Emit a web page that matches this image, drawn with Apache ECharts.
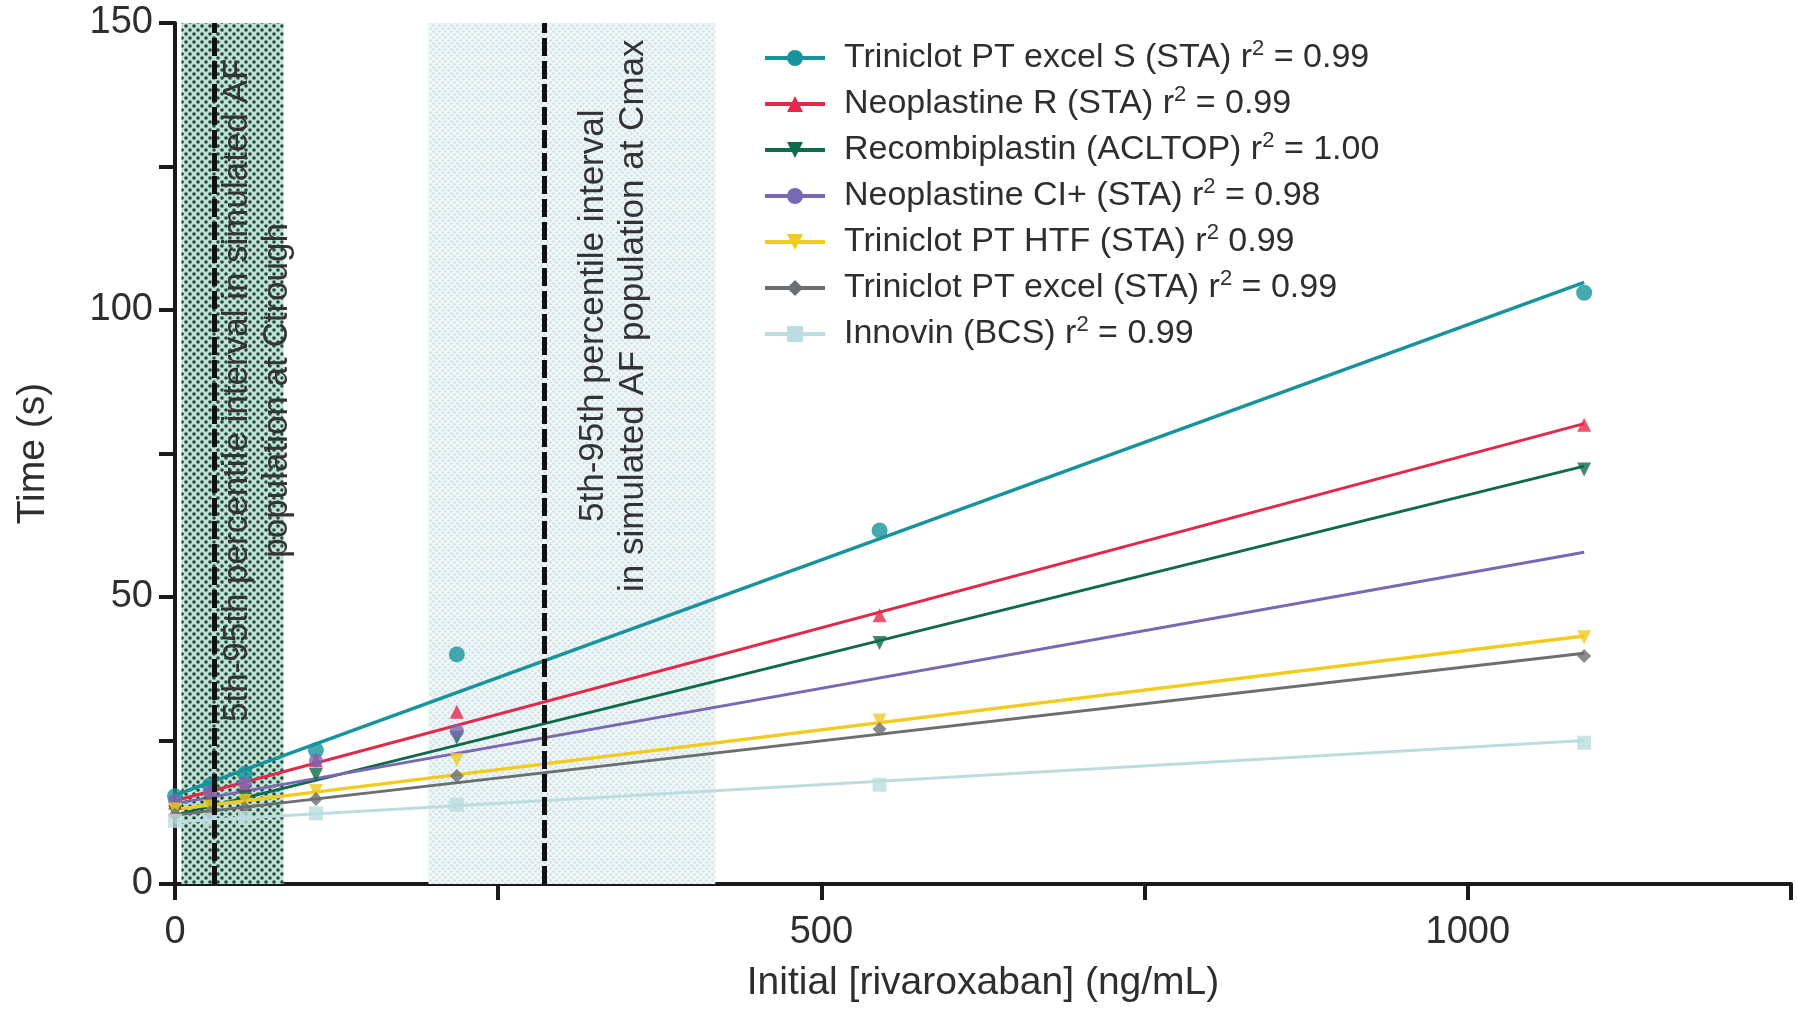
<!DOCTYPE html>
<html>
<head>
<meta charset="utf-8">
<title>Clotting time vs rivaroxaban</title>
<script src="https://cdn.jsdelivr.net/npm/echarts@6/dist/echarts.min.js"></script>
<style>
  html, body { margin: 0; padding: 0; background: #fff; }
  #chart { width: 1797px; height: 1010px; }
</style>
</head>
<body>
<div id="chart"></div>
<script>
// reagents, in legend order
const reagents = [
  'Triniclot PT excel S (STA)',
  'Neoplastine R (STA)',
  'Recombiplastin (ACLTOP)',
  'Neoplastine CI+ (STA)',
  'Triniclot PT HTF (STA)',
  'Triniclot PT excel (STA)',
  'Innovin (BCS)'
]
const rSquared = ['= 0.99', '= 0.99', '= 1.00', '= 0.98', '0.99', '= 0.99', '= 0.99']
const colors = ['#17939b', '#e3294b', '#0e6a48', '#7a68b3', '#f1cb1d', '#6c6f72', '#bddcdf']
const symbols = ['circle', 'triangle', 'triangle', 'circle', 'triangle', 'diamond', 'rect']
const symbolRotates = [0, 0, 180, 0, 180, 0, 0]

// measured points (ng/mL -> seconds)
const concentrations = [0, 27, 54, 109, 218, 545, 1090]
const excelSTimes = [15.3, 17.2, 19.2, 23.3, 40.0, 61.6, 103.0]
const neoRTimes = [14.2, 16.0, 17.2, 21.5, 30.0, 46.8, 80.0]
const recombiTimes = [12.5, 14.0, 15.2, 19.0, 25.5, 42.0, 72.2]
const neoCITimes = [14.5, 16.0, 17.5, 21.5, 26.6, null, null]
const htfTimes = [13.0, 13.5, 14.5, 16.2, 21.6, 28.5, 43.0]
const excelTimes = [12.0, 12.5, 13.2, 14.8, 18.8, 27.0, 39.7]
const innovinTimes = [11.0, 11.2, 11.5, 12.3, 13.8, 17.3, 24.6]
const measured = [excelSTimes, neoRTimes, recombiTimes, neoCITimes, htfTimes, excelTimes, innovinTimes]

// linear fits, value at start and end of fitX
const fitX = [0, 1090]
const fitExcelS = [15.5, 104.8]
const fitNeoR = [14.5, 80.2]
const fitRecombi = [12.0, 72.8]
const fitNeoCI = [14.0, 57.8]
const fitHtf = [13.0, 43.2]
const fitExcel = [12.0, 40.2]
const fitInnovin = [10.8, 25.0]
const fits = [fitExcelS, fitNeoR, fitRecombi, fitNeoCI, fitHtf, fitExcel, fitInnovin]

// simulated AF population intervals and medians
const troughBand = [5, 84]
const cmaxBand = [196, 418]
const medianLines = [30, 286]
const troughText = '5th-95th percentile interval in simulated AF\npopulation at Ctrough'
const cmaxText = '5th-95th percentile interval\nin simulated AF population at Cmax'

const xTicks = [0, 1250, 250]
const yTicks = [0, 150, 25]

const FONT = '"Liberation Sans", Arial, Helvetica, sans-serif'
const TEXT = '#2e2e2e'

const dotPattern = (bg, dot, step, r) => {
  const c = document.createElement('canvas')
  c.width = step
  c.height = step
  const ctx = c.getContext('2d')
  ctx.fillStyle = bg
  ctx.fillRect(0, 0, step, step)
  ctx.fillStyle = dot
  ;[[step / 4, step / 4], [step * 3 / 4, step * 3 / 4]].forEach(([x, y]) => {
    ctx.beginPath()
    ctx.arc(x, y, r, 0, Math.PI * 2)
    ctx.fill()
  })
  return { image: c, repeat: 'repeat' }
}

const chart = echarts.init(document.getElementById('chart'))

const fitSeries = reagents.map((name, i) => ({
  name,
  type: 'line',
  data: fitX.map((x, k) => [x, fits[i][k]]),
  symbol: symbols[i],
  symbolRotate: symbolRotates[i],
  symbolSize: 14,
  showSymbol: false,
  lineStyle: { color: colors[i], width: i === 0 || i === 4 ? 3.5 : 3 },
  itemStyle: { color: colors[i] },
  z: 3
}))

const pointSeries = reagents.map((name, i) => ({
  name: name + ' data',
  type: 'scatter',
  data: concentrations.map((x, k) => [x, measured[i][k]]).filter(p => p[1] != null),
  symbol: symbols[i],
  symbolRotate: symbolRotates[i],
  symbolSize: i === 0 ? 16 : 14,
  itemStyle: { color: colors[i] },
  z: 4
}))

const axisCommon = {
  type: 'value',
  axisLine: { lineStyle: { color: '#1a1a1a', width: 4 } },
  axisTick: { length: 16, lineStyle: { color: '#1a1a1a', width: 4 } },
  splitLine: { show: false },
  nameLocation: 'middle',
  nameTextStyle: { fontSize: 39, color: TEXT, fontFamily: FONT }
}

chart.setOption({
  animation: false,
  textStyle: { fontFamily: FONT },
  grid: { left: 175, right: 6, top: 23, bottom: 126 },
  legend: {
    data: reagents,
    orient: 'vertical',
    left: 758,
    top: 33,
    itemWidth: 60,
    itemHeight: 20,
    itemGap: 9,
    lineStyle: { width: 4 },
    formatter: name => {
      const i = reagents.indexOf(name)
      return `{t|${name} r}{sup|2}{t| ${rSquared[i]}}`
    },
    textStyle: {
      color: TEXT,
      padding: [0, 0, 0, 14],
      rich: {
        t: { fontSize: 34, lineHeight: 40, color: TEXT, fontFamily: FONT },
        sup: { fontSize: 22, lineHeight: 16, verticalAlign: 'top', color: TEXT, fontFamily: FONT }
      }
    }
  },
  xAxis: {
    ...axisCommon,
    min: xTicks[0],
    max: xTicks[1],
    interval: xTicks[2],
    name: 'Initial [rivaroxaban] (ng/mL)',
    nameGap: 80,
    axisLabel: {
      fontSize: 38,
      color: TEXT,
      margin: 30,
      formatter: v => (v % 500 === 0 ? String(v) : '')
    }
  },
  yAxis: {
    ...axisCommon,
    min: yTicks[0],
    max: yTicks[1],
    interval: yTicks[2],
    name: 'Time (s)',
    nameGap: 122,
    axisLabel: {
      fontSize: 38,
      color: TEXT,
      margin: 22,
      formatter: v => (v % 50 === 0 ? String(v) : '')
    }
  },
  series: [
    {
      name: 'intervals',
      type: 'line',
      data: [],
      z: 1,
      markArea: {
        silent: true,
        label: { show: false },
        data: [
          [
            { xAxis: troughBand[0], yAxis: yTicks[0], itemStyle: { color: dotPattern('#c2e2d5', '#1f4a3b', 8, 1.8) } },
            { xAxis: troughBand[1], yAxis: yTicks[1] }
          ],
          [
            { xAxis: cmaxBand[0], yAxis: yTicks[0], itemStyle: { color: dotPattern('#f1f7f8', '#cadfe3', 6, 1.2) } },
            { xAxis: cmaxBand[1], yAxis: yTicks[1] }
          ]
        ]
      }
    },
    ...fitSeries,
    ...pointSeries,
    {
      name: 'medians',
      type: 'line',
      data: [],
      z: 5,
      markLine: {
        silent: true,
        symbol: 'none',
        label: { show: false },
        lineStyle: { color: '#111', width: 5, type: [18, 5] },
        data: medianLines.map(x => [{ coord: [x, yTicks[0]] }, { coord: [x, yTicks[1]] }])
      }
    }
  ]
})

// rotated band captions, placed from data coordinates
const captions = [
  { text: troughText, at: [64, 86] },
  { text: cmaxText, at: [339, 99] }
]
chart.setOption({
  graphic: captions.map(c => {
    const [px, py] = chart.convertToPixel({ gridIndex: 0 }, c.at)
    return {
      type: 'text',
      x: px,
      y: py,
      rotation: Math.PI / 2,
      z: 10,
      style: {
        text: c.text,
        fontSize: 35,
        fontFamily: FONT,
        lineHeight: 40,
        fill: '#333',
        align: 'center',
        verticalAlign: 'middle',
        textAlign: 'center',
        textVerticalAlign: 'middle'
      }
    }
  })
})
</script>
</body>
</html>
